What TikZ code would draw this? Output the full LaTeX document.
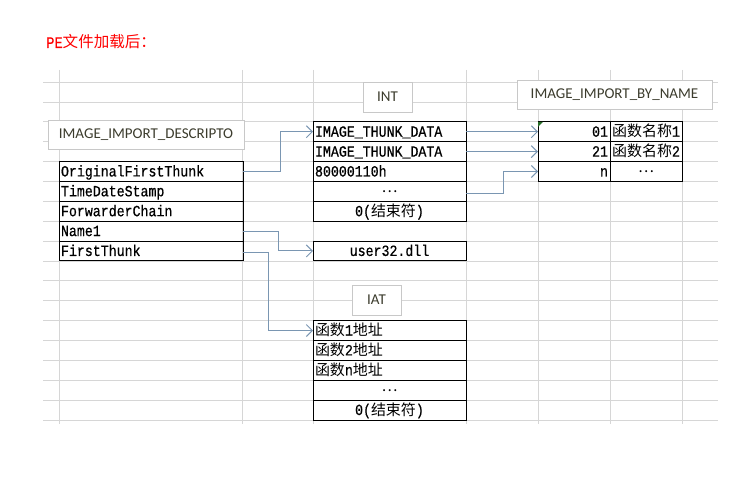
\documentclass[tikz,border=0pt]{standalone}
\usepackage{fontspec}
\setmonofont[FakeStretch=0.85,FakeBold=0.6]{Liberation Mono}
\newfontfamily\cjk[Scale=0.96]{Noto Sans CJK SC}
\newfontfamily\lblfont{Carlito}
\usetikzlibrary{positioning,arrows.meta}
\definecolor{gridgray}{RGB}{214,214,214}
\definecolor{boxgray}{RGB}{200,200,200}
\definecolor{linkblue}{RGB}{122,150,178}
\definecolor{labeltext}{RGB}{60,60,45}
\definecolor{errgreen}{RGB}{40,110,40}
\newcommand{\zh}[1]{{\cjk #1}}
\newcommand{\ellip}{\raisebox{4pt}{\zh{…}}}

\begin{document}
\begin{tikzpicture}[x=1pt,y=-1pt,
    gridline/.style={draw=gridgray,line width=0.6pt},
    cell/.style={draw=black,line width=0.9pt,outer sep=0pt,inner xsep=2pt,inner ysep=0pt,
      minimum height=19.88pt,text height=12pt,text depth=2pt,
      font=\ttfamily\fontsize{15.6}{17}\selectfont},
    dcell/.style={cell,text width=180pt,align=left},
    tcell/.style={cell,text width=149pt,align=#1},tcell/.default=left,
    ncell/.style={cell,text width=68pt,align=#1},ncell/.default=right,
    lbl/.style={draw=boxgray,fill=white,line width=0.8pt,inner sep=0pt,text=labeltext,
      font=\lblfont\fontsize{15}{17}\selectfont},
    link/.style={draw=linkblue,line width=1pt,-{Straight Barb[length=6pt,width=12pt]}}]
 \useasboundingbox (0,0) rectangle (745,481);
 % sheet grid
 \foreach \k in {0,...,17}
   \draw[gridline] (43,{82+19.88*\k}) -- (718,{82+19.88*\k});
 \foreach \x in {59,242,313,466,538,610,682}
   \draw[gridline] (\x,70) -- (\x,424);
 % title
 \node[anchor=base west,inner sep=0pt,text=red,font=\ttfamily\fontsize{16.2}{18}\selectfont]
   (title) at (46,48) {PE\zh{文件加载后：}};
 % descriptor
 \node[lbl,minimum width=196pt,minimum height=29pt] (desclbl) at (146,134.5)
   {IMAGE\_IMPORT\_DESCRIPTO};
 \node[dcell,anchor=north west] (oft) at (59,161.5) {OriginalFirstThunk};
 \node[dcell,below=0pt of oft] (tds) {TimeDateStamp};
 \node[dcell,below=0pt of tds] (fwc) {ForwarderChain};
 \node[dcell,below=0pt of fwc] (nm1) {Name1};
 \node[dcell,below=0pt of nm1] (fth) {FirstThunk};
 % INT
 \node[lbl,minimum width=49pt,minimum height=30pt] (intlbl) at (387.5,97) {INT};
 \node[tcell,anchor=north west] (int1) at (313,121.8) {IMAGE\_THUNK\_DATA};
 \node[tcell,below=0pt of int1] (int2) {IMAGE\_THUNK\_DATA};
 \node[tcell,below=0pt of int2] (int3) {80000110h};
 \node[tcell=center,below=0pt of int3] (int4) {\ellip};
 \node[tcell=center,below=0pt of int4] (int5) {0(\zh{结束符})};
 \node[tcell=center,anchor=north west] (dll) at (313,241) {user32.dll};
 % IAT
 \node[lbl,minimum width=49pt,minimum height=30pt] (iatlbl) at (376.5,300) {IAT};
 \node[tcell,anchor=north west] (iat1) at (313,320.6) {\zh{函数}1\zh{地址}};
 \node[tcell,below=0pt of iat1] (iat2) {\zh{函数}2\zh{地址}};
 \node[tcell,below=0pt of iat2] (iat3) {\zh{函数}n\zh{地址}};
 \node[tcell=center,below=0pt of iat3] (iat4) {\ellip};
 \node[tcell=center,below=0pt of iat4] (iat5) {0(\zh{结束符})};
 % by name
 \node[lbl,minimum width=195pt,minimum height=29pt] (bnlbl) at (614.5,94.5)
   {IMAGE\_IMPORT\_BY\_NAME};
 \node[ncell,anchor=north west] (bn1) at (538,121.8) {01};
 \node[ncell,below=0pt of bn1] (bn2) {21};
 \node[ncell,below=0pt of bn2] (bn3) {n};
 \node[ncell=center,right=0pt of bn1] (bnf1) {\zh{函数名称}1};
 \node[ncell=center,right=0pt of bn2] (bnf2) {\zh{函数名称}2};
 \node[ncell=center,right=0pt of bn3] (bnf3) {\ellip};
 \fill[errgreen] (bn1.north west) -- ++(5,0) -- ++(-5,5) -- cycle;
 % links
 \draw[link] (oft.east) -- ++(37,0) |- (int1.west);
 \draw[link] (nm1.east) -- ++(35,0) |- (dll.west);
 \draw[link] ([yshift=-2pt]fth.east) -- ++(25,0) |- (iat1.west);
 \draw[link] (int1.east) -- (bn1.west);
 \draw[link] (int2.east) -- (bn2.west);
 \draw[link] ([yshift=-2pt]int4.east) -- ++(37,0) |- (bn3.west);
\end{tikzpicture}
\end{document}
